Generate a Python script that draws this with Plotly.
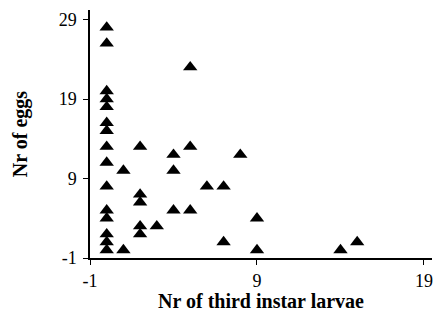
import plotly.graph_objects as go

# Nr of third instar larvae (x) and Nr of eggs (y)
larvae = [0, 0, 0, 0, 0, 0, 0, 0, 0, 0, 0, 0, 0, 0, 0,
          1, 1,
          2, 2, 2, 2, 2,
          3,
          4, 4, 4,
          5, 5, 5,
          6, 7, 7,
          8,
          9, 9,
          14, 15]
eggs = [28, 26, 20, 19, 18, 16, 15, 13, 11, 8, 5, 4, 2, 1, 0,
        10, 0,
        13, 7, 6, 3, 2,
        3,
        12, 10, 5,
        23, 13, 5,
        8, 8, 1,
        12,
        4, 0,
        0, 1]

x_ticks = [-1, 9, 19]
y_ticks = [-1, 9, 19, 29]

fig = go.Figure()
fig.add_trace(go.Scatter(
    x=larvae, y=eggs, mode="markers",
    marker=dict(symbol="triangle-up", size=12.5, color="black"),
    showlegend=False,
))

serif = "Liberation Serif, Times New Roman, serif"
fig.update_layout(
    width=433, height=312,
    margin=dict(l=90, r=1, t=10, b=54),
    paper_bgcolor="white", plot_bgcolor="white",
    font=dict(family=serif, color="black"),
)
fig.update_xaxes(
    range=[-1, 19.48], tickvals=x_ticks, ticktext=[str(v) for v in x_ticks],
    showgrid=False, zeroline=False, automargin=False,
    showline=True, linecolor="black", linewidth=1.5,
    ticks="outside", ticklen=5, tickwidth=1, tickcolor="black",
    tickfont=dict(size=18, family=serif),
    ticklabelstandoff=1,
    title=dict(text="<b>Nr of third instar larvae</b>", font=dict(size=20, family=serif)),
)
fig.update_yaxes(
    range=[-1, 30.2], tickvals=y_ticks, ticktext=[str(v) for v in y_ticks],
    showgrid=False, zeroline=False, automargin=False,
    showline=True, linecolor="black", linewidth=1.5,
    ticks="outside", ticklen=5, tickwidth=1, tickcolor="black",
    tickfont=dict(size=18, family=serif),
    ticklabelstandoff=3,
    title=dict(text="<b>Nr of eggs</b>", font=dict(size=20, family=serif), standoff=26),
)

fig.write_html(
    "out.html",
    config={"displayModeBar": False},
    post_script="document.body.style.margin='0';document.body.style.overflow='hidden';",
)
